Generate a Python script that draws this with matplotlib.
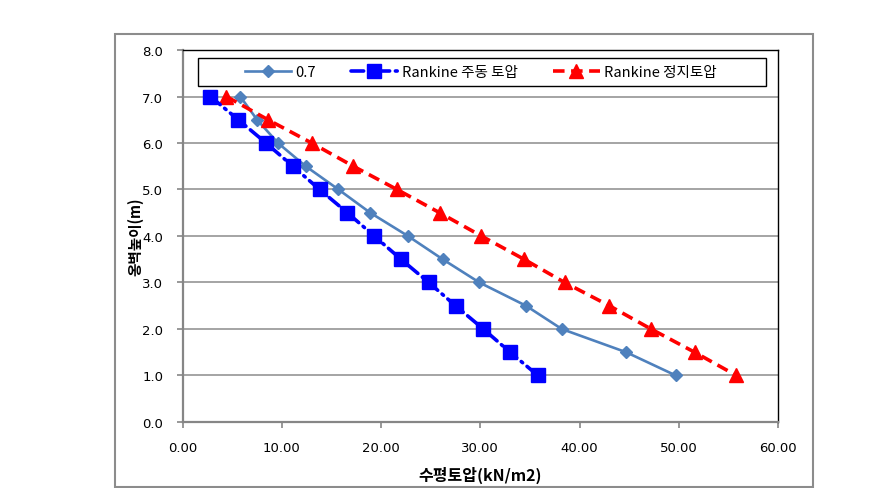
import matplotlib
matplotlib.use("Agg")
import matplotlib.pyplot as plt
from matplotlib.patches import Rectangle

plt.rcParams['font.family'] = ['Noto Sans CJK KR', 'DejaVu Sans']

# wall height (m)
height = [7.0, 6.5, 6.0, 5.5, 5.0, 4.5, 4.0, 3.5, 3.0, 2.5, 2.0, 1.5, 1.0]

# horizontal earth pressure (kN/m2)
p_07 = [5.8, 7.5, 9.6, 12.4, 15.7, 18.9, 22.7, 26.2, 29.9, 34.6, 38.2, 44.7, 49.7]
p_active = [2.8, 5.6, 8.4, 11.1, 13.8, 16.6, 19.3, 22.0, 24.8, 27.5, 30.3, 33.0, 35.8]
p_rest = [4.4, 8.6, 13.0, 17.2, 21.6, 25.9, 30.1, 34.4, 38.5, 43.0, 47.2, 51.6, 55.8]

labels = ['0.7', 'Rankine 주동 토압', 'Rankine 정지토압']
xticks = [0, 10, 20, 30, 40, 50, 60]
yticks = [0, 1, 2, 3, 4, 5, 6, 7, 8]

fig = plt.figure(figsize=(8.96, 4.89), dpi=100)
ax = fig.add_axes([0.2039, 0.135, 0.6644, 0.7607])

# outer chart border
fig.patches.append(Rectangle((0.128, 0.002), 0.779, 0.926, transform=fig.transFigure,
                             fill=False, edgecolor='#8c8c8c', linewidth=1.5))

ax.plot(p_07, height, color='#4F81BD', linewidth=1.9, marker='D', markersize=6,
        label=labels[0], zorder=3)
ax.plot(p_active, height, color='#0000FF', linewidth=2.6, marker='s', markersize=10,
        dashes=(3.5, 1.6, 0.5, 1.6), dash_capstyle='round', label=labels[1], zorder=4)
ax.plot(p_rest, height, color='#FF0000', linewidth=2.6, marker='^', markersize=10.5,
        dashes=(3.2, 1.8), label=labels[2], zorder=3)

ax.set_xlim(0, 60)
ax.set_ylim(0, 8)
ax.set_xticks(xticks)
ax.set_yticks(yticks)
ax.set_xticklabels([f"{v:.2f}" for v in xticks], family='DejaVu Sans', fontsize=9.5)
ax.set_yticklabels([f"{v:.1f}" for v in yticks], family='DejaVu Sans', fontsize=9.5)
ax.tick_params(axis='both', direction='out', length=4, color='#868686', width=1.2)
ax.tick_params(axis='y', pad=10)
ax.tick_params(axis='x', pad=10)

ax.yaxis.grid(True, color='#8c8c8c', linewidth=1.1)
ax.set_axisbelow(True)

for s in ['left', 'bottom']:
    ax.spines[s].set_color('#868686')
    ax.spines[s].set_linewidth(1.6)
for s in ['top', 'right']:
    ax.spines[s].set_color('black')
    ax.spines[s].set_linewidth(1.0)

ax.set_xlabel('수평토압(kN/m2)', fontsize=11.5, fontweight='bold', labelpad=8)
ax.set_ylabel('옹벽높이(m)', fontsize=10.5, fontweight='bold', labelpad=-1)

# legend box drawn separately, entries centred inside it
ax.add_patch(Rectangle((0.0257, 0.903), 0.954, 0.075, transform=ax.transAxes,
                       fill=True, facecolor='white', edgecolor='black',
                       linewidth=1.0, zorder=5))
leg = ax.legend(loc='center', bbox_to_anchor=(0.5005, 0.9405), ncol=3,
                fontsize=10.5, frameon=False, handlelength=3.2,
                handletextpad=0.3, columnspacing=2.4, borderaxespad=0,
                borderpad=0)
leg.set_zorder(6)

fig.savefig('out.png', dpi=100)
